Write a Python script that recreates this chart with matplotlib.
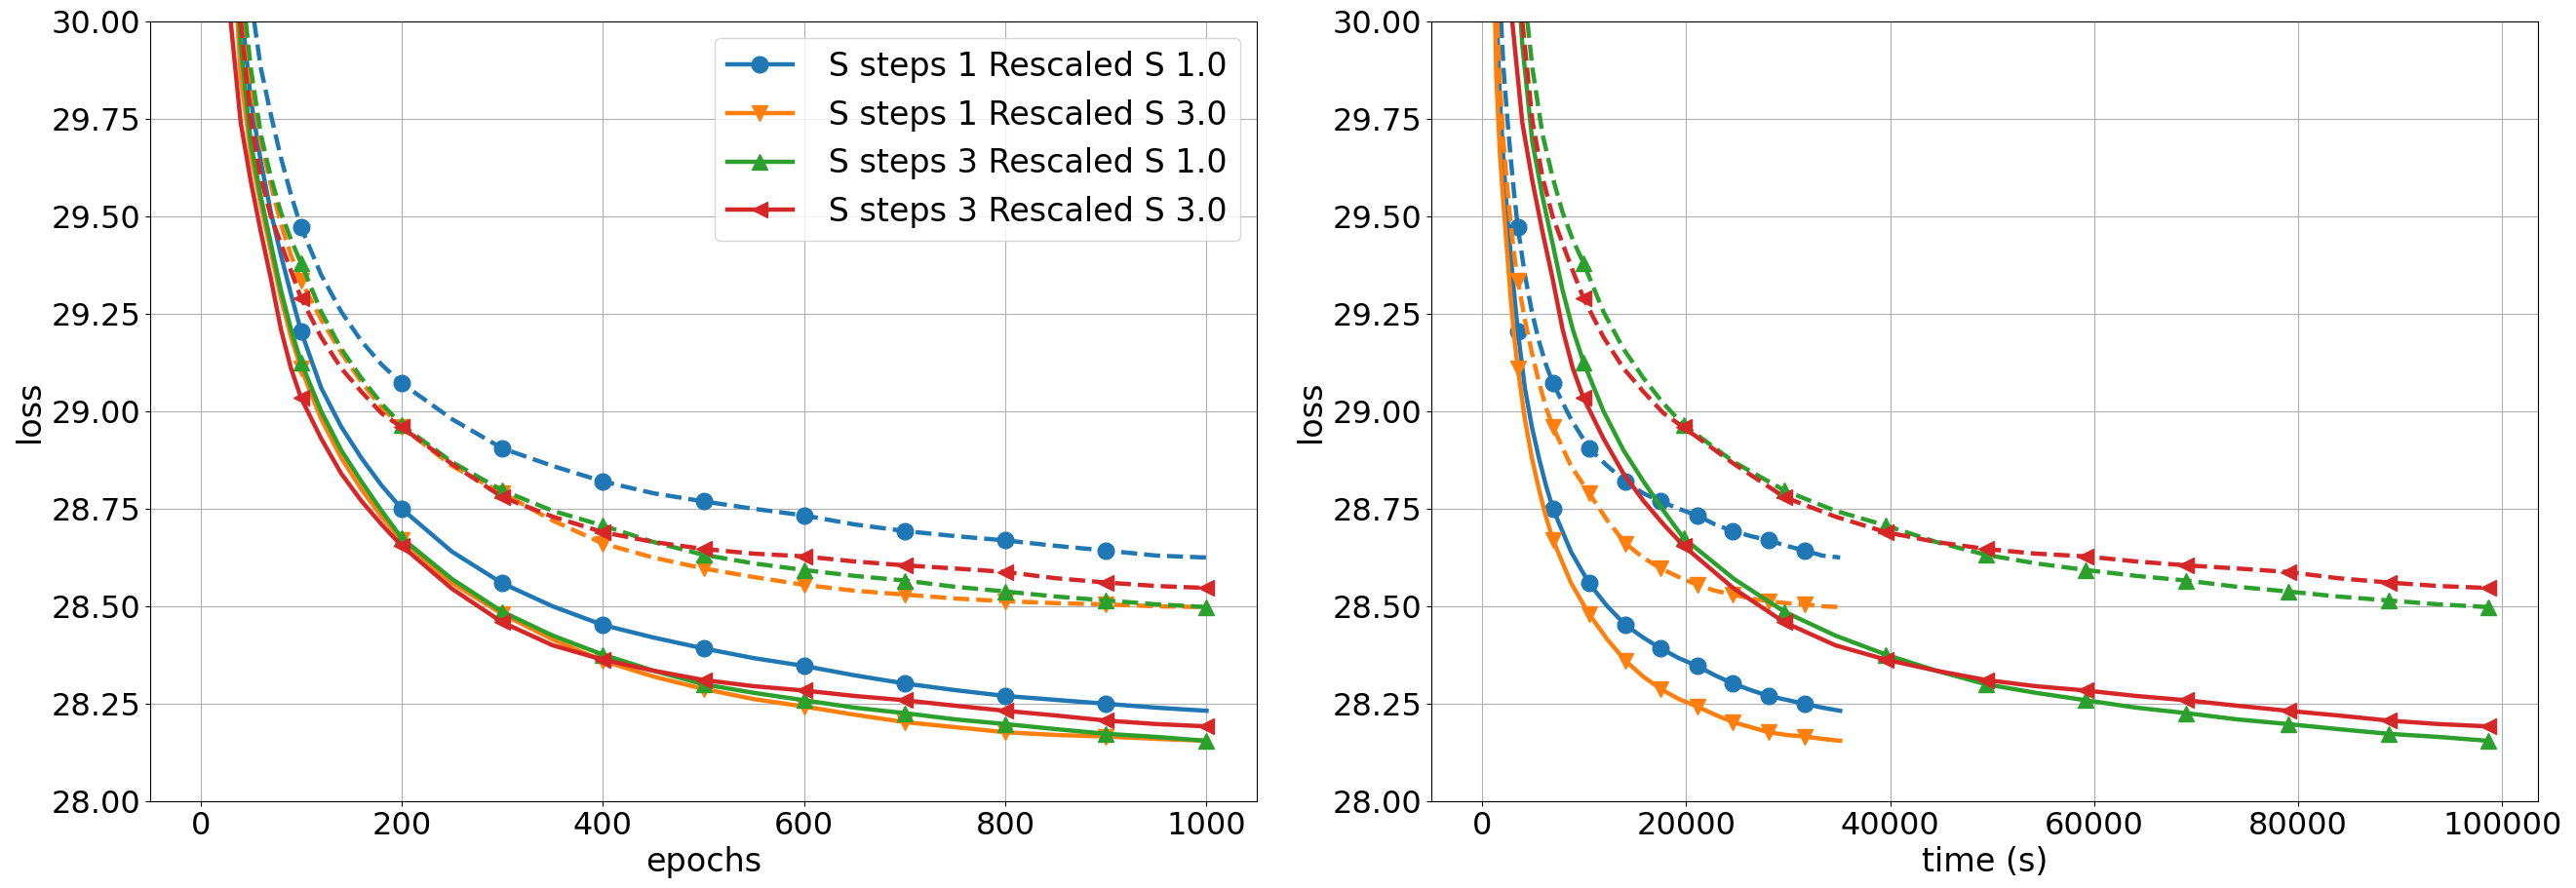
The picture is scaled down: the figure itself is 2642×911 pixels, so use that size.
import numpy as np
import matplotlib
matplotlib.use("Agg")
import matplotlib.pyplot as plt

epochs = [20, 30, 40, 50, 60, 70, 80, 90, 100, 120, 140, 160, 180, 200, 250,
          300, 350, 400, 450, 500, 550, 600, 650, 700, 750, 800, 850, 900, 950, 1000]

# wall clock time (s) at those epochs
time_steps1 = [700, 1050, 1400, 1755, 2105, 2455, 2810, 3160, 3510, 4200, 4890, 5580,
               6265, 6954, 8720, 10493, 12280, 14062, 15785, 17506, 19290, 21080,
               22830, 24585, 26340, 28090, 29845, 31600, 33350, 35100]
time_steps3 = [1970, 2960, 3950, 4940, 5930, 6920, 7900, 8900, 9950, 11910, 13870,
               15830, 17790, 19750, 24700, 29640, 34620, 39600, 44490, 49380, 54280,
               59180, 64100, 69030, 74000, 78980, 83900, 88830, 93720, 98600]

labels = [" S steps 1 Rescaled S 1.0", " S steps 1 Rescaled S 3.0",
          " S steps 3 Rescaled S 1.0", " S steps 3 Rescaled S 3.0"]

# solid lines
train_s1_r1 = [31.0, 30.55, 30.05, 29.80, 29.64, 29.51, 29.40, 29.30, 29.205, 29.06,
               28.96, 28.88, 28.81, 28.75, 28.64, 28.559, 28.50, 28.452, 28.42, 28.392,
               28.367, 28.347, 28.323, 28.302, 28.285, 28.27, 28.26, 28.25, 28.24, 28.232]
train_s1_r3 = [30.8, 30.3, 29.86, 29.66, 29.53, 29.41, 29.29, 29.19, 29.11, 28.98,
               28.88, 28.80, 28.73, 28.67, 28.56, 28.48, 28.415, 28.36, 28.32, 28.288,
               28.262, 28.243, 28.222, 28.203, 28.19, 28.177, 28.17, 28.166, 28.16, 28.155]
train_s3_r1 = [30.9, 30.35, 29.94, 29.69, 29.55, 29.43, 29.31, 29.21, 29.126, 29.0,
               28.90, 28.82, 28.745, 28.675, 28.57, 28.486, 28.425, 28.376, 28.335, 28.30,
               28.278, 28.259, 28.24, 28.226, 28.21, 28.198, 28.185, 28.173, 28.165, 28.155]
train_s3_r3 = [30.6, 30.0, 29.74, 29.59, 29.46, 29.34, 29.21, 29.11, 29.034, 28.93,
               28.84, 28.77, 28.71, 28.655, 28.545, 28.459, 28.40, 28.363, 28.335, 28.311,
               28.295, 28.284, 28.27, 28.259, 28.245, 28.232, 28.22, 28.207, 28.198, 28.192]

# dashed lines
val_s1_r1 = [31.6, 30.9, 30.38, 30.06, 29.88, 29.76, 29.65, 29.555, 29.472, 29.35,
             29.255, 29.18, 29.12, 29.072, 28.98, 28.905, 28.86, 28.82, 28.79, 28.769,
             28.75, 28.733, 28.71, 28.693, 28.68, 28.669, 28.655, 28.643, 28.63, 28.625]
val_s1_r3 = [31.2, 30.5, 30.06, 29.84, 29.69, 29.58, 29.48, 29.40, 29.335, 29.235,
             29.15, 29.075, 29.01, 28.96, 28.86, 28.79, 28.72, 28.661, 28.625, 28.597,
             28.575, 28.555, 28.54, 28.53, 28.52, 28.513, 28.508, 28.505, 28.50, 28.498]
val_s3_r1 = [31.3, 30.55, 30.12, 29.88, 29.71, 29.60, 29.51, 29.44, 29.38, 29.255,
             29.16, 29.085, 29.02, 28.965, 28.87, 28.797, 28.745, 28.707, 28.665, 28.632,
             28.61, 28.593, 28.578, 28.566, 28.55, 28.538, 28.525, 28.515, 28.505, 28.498]
val_s3_r3 = [30.9, 30.35, 30.0, 29.745, 29.60, 29.50, 29.43, 29.36, 29.29, 29.19,
             29.11, 29.05, 28.995, 28.959, 28.865, 28.78, 28.73, 28.69, 28.665, 28.647,
             28.635, 28.628, 28.615, 28.605, 28.597, 28.588, 28.572, 28.561, 28.552, 28.547]

marked_steps1 = [100, 200, 300, 400, 500, 600, 700, 800, 900]
marked_steps3 = [100, 200, 300, 400, 500, 600, 700, 800, 900, 1000]

runs = [
    (train_s1_r1, val_s1_r1, time_steps1, marked_steps1, "tab:blue", "o"),
    (train_s1_r3, val_s1_r3, time_steps1, marked_steps1, "tab:orange", "v"),
    (train_s3_r1, val_s3_r1, time_steps3, marked_steps3, "tab:green", "^"),
    (train_s3_r3, val_s3_r3, time_steps3, marked_steps3, "tab:red", "<"),
]

fig, (ax1, ax2) = plt.subplots(1, 2, figsize=(26.42, 9.11), dpi=100)
fig.subplots_adjust(left=0.0583, right=0.9854, bottom=0.0977, top=0.9759, wspace=0.158)

lw = 3.2
ms = 12
for (tr, va, tm, marked, c, m), lab in zip(runs, labels):
    idx = [epochs.index(e) for e in marked]
    ax1.plot(epochs, tr, '-', color=c, marker=m, markevery=idx, lw=lw, ms=ms, label=lab)
    ax1.plot(epochs, va, '--', color=c, marker=m, markevery=idx, lw=lw, ms=ms)
    ax2.plot(tm, tr, '-', color=c, marker=m, markevery=idx, lw=lw, ms=ms)
    ax2.plot(tm, va, '--', color=c, marker=m, markevery=idx, lw=lw, ms=ms)

ax1.set_xlim(-50, 1050)
ax2.set_xlim(-4930, 103530)
ax2.set_xticks([0, 20000, 40000, 60000, 80000, 100000])
ax1.set_xlabel("epochs", fontsize=24)
ax2.set_xlabel("time (s)", fontsize=24)
for ax in (ax1, ax2):
    ax.set_ylim(28, 30)
    ax.set_ylabel("loss", fontsize=24)
    ax.tick_params(labelsize=23)
    ax.grid(True)
    ax.yaxis.set_major_formatter(matplotlib.ticker.FormatStrFormatter('%.2f'))

ax1.legend(loc='upper right', fontsize=24)

fig.savefig("out.png", dpi=100)
